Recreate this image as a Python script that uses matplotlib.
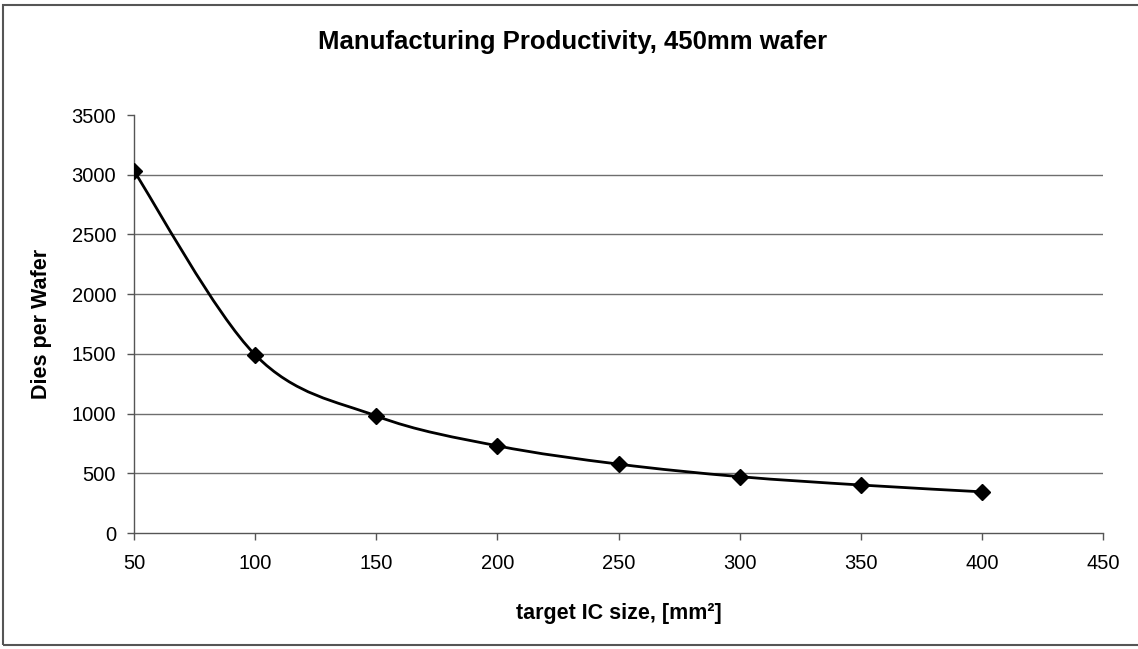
"""Dies-per-wafer curve for a 450mm wafer, Excel-style smoothed line."""

import matplotlib
matplotlib.use("Agg")
import matplotlib.pyplot as plt
import numpy as np
from matplotlib.path import Path
from matplotlib.patches import PathPatch, Rectangle

plt.rcParams["font.family"] = ["Liberation Sans", "DejaVu Sans"]

# die area [mm^2] vs. gross dies per wafer
ic_size = [50, 100, 150, 200, 250, 300, 350, 400]
dies_per_wafer = [3030, 1492, 980, 730, 577, 472, 402, 345]

x_ticks = [50, 100, 150, 200, 250, 300, 350, 400, 450]
y_ticks = [0, 500, 1000, 1500, 2000, 2500, 3000, 3500]


def smooth_path(xs, ys):
    """Catmull-Rom style cubic Bezier through the points (like Excel's smoothed line)."""
    p = np.column_stack([xs, ys]).astype(float)
    n = len(p)
    verts = [p[0]]
    codes = [Path.MOVETO]
    for i in range(n - 1):
        p0 = p[i - 1] if i > 0 else p[i]
        p3 = p[i + 2] if i + 2 < n else p[i + 1]
        c1 = p[i] + (p[i + 1] - p0) / 6.0
        c2 = p[i + 1] - (p3 - p[i]) / 6.0
        verts += [c1, c2, p[i + 1]]
        codes += [Path.CURVE4] * 3
    return Path(verts, codes)


fig = plt.figure(figsize=(11.38, 6.49), dpi=100)
ax = fig.add_axes([0.1178, 0.1787, 0.8514, 0.6441])

ax.set_xlim(50, 450)
ax.set_ylim(0, 3500)
ax.set_xticks(x_ticks)
ax.set_yticks(y_ticks)

# horizontal gridlines only, none at the top value
for v in y_ticks[1:-1]:
    ax.axhline(v, color="#6e6e6e", lw=1.0, zorder=1)

ax.add_patch(PathPatch(smooth_path(ic_size, dies_per_wafer), facecolor="none",
                       edgecolor="black", lw=2.0, zorder=3))
ax.plot(ic_size, dies_per_wafer, linestyle="none", marker="D", ms=8,
        color="black", zorder=4)

for side in ("top", "right"):
    ax.spines[side].set_visible(False)
for side in ("left", "bottom"):
    ax.spines[side].set_color("#555555")
    ax.spines[side].set_linewidth(1.0)

ax.tick_params(axis="both", direction="out", length=5, width=1.0,
               color="#555555", labelsize=14.5)
ax.tick_params(axis="x", pad=10)
ax.tick_params(axis="y", pad=8)

ax.set_xlabel("target IC size, [mm²]", fontsize=15.5, fontweight="bold",
              labelpad=22)
ax.set_ylabel("Dies per Wafer", fontsize=15.5, fontweight="bold", labelpad=14)
fig.text(0.5035, 0.936, "Manufacturing Productivity, 450mm wafer",
         ha="center", va="center", fontsize=18.5, fontweight="bold")

# outer chart frame
fig.add_artist(Rectangle((0.003, 0.006), 1.2, 0.986, transform=fig.transFigure,
                         fill=False, edgecolor="#555555", lw=1.5))

fig.savefig("out.png", dpi=100)
plt.close(fig)
